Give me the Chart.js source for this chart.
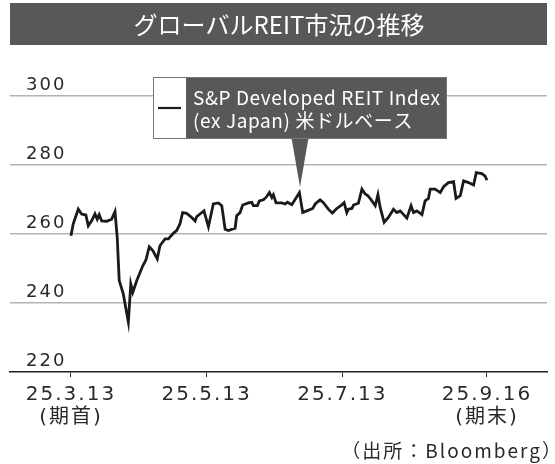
<!DOCTYPE html>
<html><head><meta charset="utf-8">
<script src="https://cdn.jsdelivr.net/npm/chart.js@4"></script>
<style>html,body{margin:0;padding:0;background:#fff}#wrap{width:555px;height:464px;position:relative}</style>
</head><body><div id="wrap"><canvas id="c" width="555" height="464"></canvas></div>
<script>
const titleText = 'グローバルREIT市況の推移';
const seriesName = ['S&P Developed REIT Index', '(ex Japan) 米ドルベース'];
const sourceText = '（出所：Bloomberg）';
// days since 2025-03-13
const days = [0,1.0,3.3,4.8,6.7,7.8,9.3,10.8,11.8,12.7,13.8,16.1,18.3,19.8,20.8,21.7,23.5,25.8,26.9,27.8,29.6,32.3,33.7,35.2,36.8,38.8,40.0,42.3,43.8,46.0,47.5,49.0,50.2,52.0,54.3,55.8,56.5,58.0,59.8,61.8,64.0,66.3,67.8,69.3,70.8,73.8,74.5,76.0,77.2,79.8,81.3,82.0,83.8,84.7,86.5,87.7,89.2,90.3,91.0,92.2,94.8,96.3,97.3,99.3,102.7,104.2,106.0,108.7,109.8,112.0,113.5,115.7,117.5,119.5,121.3,122.8,124.0,124.7,126.3,127.0,129.2,130.8,132.3,133.5,135.3,136.8,138.0,139.0,140.8,142.7,145.0,146.5,148.0,151.0,152.9,154.0,155.5,157.8,159.2,160.7,161.5,163.7,166.0,167.5,169.7,172.0,173.1,175.0,176.5,178.7,181.0,182.2,184.7,186.2,187.0];
const values = [259.5,262.9,267.2,265.8,265.5,262.4,263.8,265.8,264.3,265.6,263.8,263.7,264.3,266.5,259,246.5,242.7,234.5,245.5,243.1,246.5,250.8,252.5,256.3,255.2,252.8,256.6,258.6,258.6,260.2,261,262.9,266.2,266,264.8,263.8,265,265.8,266.7,262.1,268.7,269,268.2,261.4,261,261.7,265.3,266.2,268.4,269,269.2,268.2,268.2,269.6,269.9,270.6,272,270.6,271.4,269,269,268.7,269.2,268.5,272,266.2,266.7,267.4,268.7,269.9,269.1,267.2,266.1,267.4,268.2,269.1,266.2,267.2,267.4,268.4,268.9,273,271.6,271.1,269.6,268.2,271.4,267.7,263.4,264.8,267.2,266.2,266.7,264.6,268.2,266.2,266.7,265.6,269.6,270.3,273,273,272,273.7,274.9,275.2,270.3,271.1,275.4,274.9,274.2,277.8,277.5,276.8,275.6];
const tickDays = [0, 61, 122, 187];
const tickLabels = [['25.3.13','(期首)'], ['25.5.13'], ['25.7.13'], ['25.9.16','(期末)']];
const yTicks = [220, 240, 260, 280, 300];

const FONT = "'Noto Sans CJK JP','Noto Sans',sans-serif";
const TICKFONT = "'DejaVu Sans','Noto Sans CJK JP',sans-serif";
const DARK = '#58585a';

const spacing = {
  id: 'spacing',
  beforeDraw(chart) { chart.ctx.letterSpacing = '2px'; }
};

const decor = {
  id: 'decor',
  afterDraw(chart) {
    const ctx = chart.ctx;
    ctx.save();
    ctx.letterSpacing = '0px';
    // title bar
    ctx.fillStyle = DARK;
    ctx.fillRect(10, 3, 537, 42);
    ctx.fillStyle = '#fff';
    ctx.font = '24px ' + FONT;
    ctx.textAlign = 'center';
    ctx.textBaseline = 'middle';
    ctx.fillText(titleText, 279, 25);
    // legend callout
    ctx.fillStyle = DARK;
    ctx.beginPath();
    ctx.moveTo(291.5, 138); ctx.lineTo(308.5, 138); ctx.lineTo(300, 187); ctx.closePath();
    ctx.fill();
    ctx.fillRect(186, 77, 261, 62);
    ctx.fillStyle = '#fff';
    ctx.fillRect(153, 77, 33, 62);
    ctx.strokeStyle = '#777';
    ctx.lineWidth = 1;
    ctx.strokeRect(153.5, 77.5, 293, 61);
    ctx.strokeStyle = '#1a1a1a';
    ctx.lineWidth = 2.2;
    ctx.beginPath(); ctx.moveTo(158, 108); ctx.lineTo(181, 108); ctx.stroke();
    ctx.fillStyle = '#fff';
    ctx.font = '19px ' + FONT;
    ctx.letterSpacing = '0.6px';
    ctx.textAlign = 'left';
    ctx.textBaseline = 'alphabetic';
    ctx.fillText(seriesName[0], 193, 104.5);
    ctx.fillText(seriesName[1], 193, 128);
    // source
    ctx.fillStyle = '#2a2a2a';
    ctx.font = '19px ' + FONT;
    ctx.letterSpacing = '2px';
    const m = ctx.measureText(sourceText);
    ctx.fillText(sourceText, 548 - m.actualBoundingBoxRight, 458);
    ctx.restore();
  }
};

new Chart(document.getElementById('c'), {
  type: 'line',
  data: {
    datasets: [{
      data: days.map((d, i) => ({x: d, y: values[i]})),
      borderColor: '#1a1a1a',
      borderWidth: 2.8,
      pointRadius: 0,
      tension: 0,
      fill: false
    }]
  },
  options: {
    responsive: false,
    animation: false,
    devicePixelRatio: 1,
    layout: {padding: {left: 10, right: 8, top: 96, bottom: 32}},
    plugins: {legend: {display: false}, tooltip: {enabled: false}, title: {display: false}},
    scales: {
      x: {
        type: 'linear', min: -27.4, max: 214,
        afterBuildTicks: s => { s.ticks = tickDays.map(v => ({value: v})); },
        afterFit: s => { s.height = 60; },
        ticks: {
          callback: (v, i) => tickLabels[i],
          maxRotation: 0, autoSkip: false,
          font: {family: TICKFONT, size: 20, lineHeight: 1.12},
          color: '#2a2a2a', padding: 7
        },
        grid: {drawOnChartArea: false, drawTicks: true, tickLength: 5, color: '#333', lineWidth: 1},
        border: {color: '#222', width: 1.5}
      },
      y: {
        min: 220, max: 300,
        afterBuildTicks: s => { s.ticks = yTicks.map(v => ({value: v})); },
        afterFit: s => { s.width = 0; },
        ticks: {
          mirror: true, padding: 16,
          callback: v => [String(v), ''],
          font: {family: TICKFONT, size: 18, lineHeight: '22px'},
          color: '#2a2a2a'
        },
        grid: {
          color: c => (c.tick && c.tick.value === 220) ? 'rgba(0,0,0,0)' : '#b4b4b4',
          lineWidth: 1.5, drawTicks: false
        },
        border: {display: false}
      }
    }
  },
  plugins: [spacing, decor]
});
</script>
</body></html>
